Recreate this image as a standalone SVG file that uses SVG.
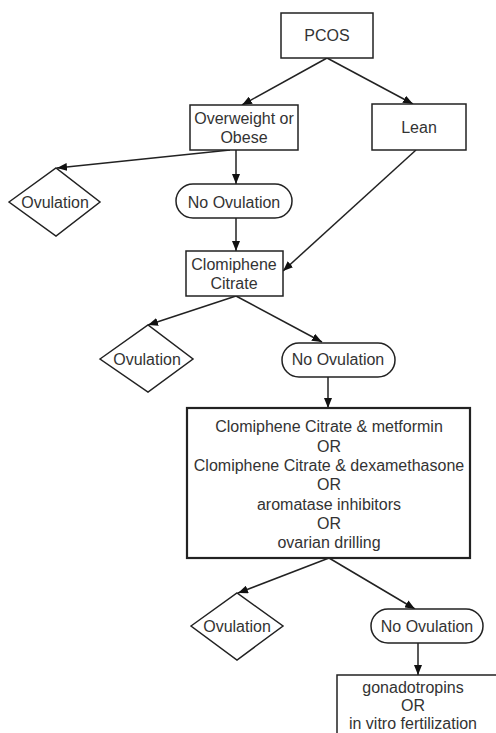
<svg xmlns="http://www.w3.org/2000/svg" width="496" height="733" viewBox="0 0 496 733">
<style>
  .box{fill:#fff;stroke:#222;stroke-width:1.5}
  .bold{fill:#fff;stroke:#222;stroke-width:2.2}
  .t{font-family:"Liberation Sans",Arial,sans-serif;font-size:16px;fill:#333;text-anchor:middle}
  .c{fill:none;stroke:#222;stroke-width:1.5}
</style>
<defs>
  <marker id="ah" markerUnits="userSpaceOnUse" markerWidth="10" markerHeight="8" refX="10" refY="4" orient="auto">
    <path d="M0,0 L10,4 L0,8 z" fill="#111"/>
  </marker>
</defs>
<rect width="496" height="733" fill="#fff"/>
<g id="connectors">
  <line class="c" x1="327" y1="58" x2="242" y2="105" marker-end="url(#ah)"/>
  <line class="c" x1="327" y1="58" x2="413" y2="104" marker-end="url(#ah)"/>
  <line class="c" x1="230" y1="150" x2="57" y2="168" marker-end="url(#ah)"/>
  <line class="c" x1="236" y1="150" x2="236" y2="184" marker-end="url(#ah)"/>
  <line class="c" x1="236" y1="218" x2="236" y2="251" marker-end="url(#ah)"/>
  <line class="c" x1="416" y1="150" x2="283" y2="271" marker-end="url(#ah)"/>
  <line class="c" x1="236" y1="296" x2="148" y2="325" marker-end="url(#ah)"/>
  <line class="c" x1="236" y1="296" x2="322" y2="342" marker-end="url(#ah)"/>
  <line class="c" x1="328" y1="377" x2="328" y2="408" marker-end="url(#ah)"/>
  <line class="c" x1="329" y1="558" x2="238" y2="593" marker-end="url(#ah)"/>
  <line class="c" x1="329" y1="558" x2="415" y2="609" marker-end="url(#ah)"/>
  <line class="c" x1="418" y1="643" x2="418" y2="675" marker-end="url(#ah)"/>
</g>
<g id="pcos">
  <rect class="box" x="281" y="13" width="92" height="45"/>
  <text class="t" x="327" y="41">PCOS</text>
</g>
<g id="overweight">
  <rect class="box" x="190" y="105" width="108" height="45"/>
  <text class="t" x="244" y="124">Overweight or</text>
  <text class="t" x="244" y="143">Obese</text>
</g>
<g id="lean">
  <rect class="box" x="372" y="104" width="94" height="46"/>
  <text class="t" x="419" y="133">Lean</text>
</g>
<g id="ovulation1">
  <polygon class="box" points="9,202 56,168 100,202 56,236"/>
  <text class="t" x="55" y="207.5">Ovulation</text>
</g>
<g id="noovulation1">
  <rect class="box" x="176" y="184" width="116" height="34" rx="17"/>
  <text class="t" x="234" y="207.5">No Ovulation</text>
</g>
<g id="clomiphene">
  <rect class="box" x="186" y="251" width="97" height="45"/>
  <text class="t" x="234" y="270">Clomiphene</text>
  <text class="t" x="234" y="289">Citrate</text>
</g>
<g id="ovulation2">
  <polygon class="box" points="100,359 148,325 193,359 148,392"/>
  <text class="t" x="147" y="365">Ovulation</text>
</g>
<g id="noovulation2">
  <rect class="box" x="282" y="343" width="113" height="34" rx="17"/>
  <text class="t" x="338" y="365">No Ovulation</text>
</g>
<g id="combination">
  <rect class="bold" x="187" y="408" width="283" height="150"/>
  <text class="t" x="329" y="432">Clomiphene Citrate &amp; metformin</text>
  <text class="t" x="329" y="451.5">OR</text>
  <text class="t" x="329" y="471">Clomiphene Citrate &amp; dexamethasone</text>
  <text class="t" x="329" y="490">OR</text>
  <text class="t" x="329" y="509.5">aromatase inhibitors</text>
  <text class="t" x="329" y="528.5">OR</text>
  <text class="t" x="329" y="548">ovarian drilling</text>
</g>
<g id="ovulation3">
  <polygon class="box" points="191,626 237,593 283,626 237,660"/>
  <text class="t" x="237" y="632">Ovulation</text>
</g>
<g id="noovulation3">
  <rect class="box" x="371" y="609" width="112" height="34" rx="17"/>
  <text class="t" x="427" y="632">No Ovulation</text>
</g>
<g id="gonadotropins">
  <rect class="box" x="337" y="675" width="170" height="80"/>
  <text class="t" x="413" y="693">gonadotropins</text>
  <text class="t" x="413" y="711">OR</text>
  <text class="t" x="413" y="729">in vitro fertilization</text>
</g>
</svg>
